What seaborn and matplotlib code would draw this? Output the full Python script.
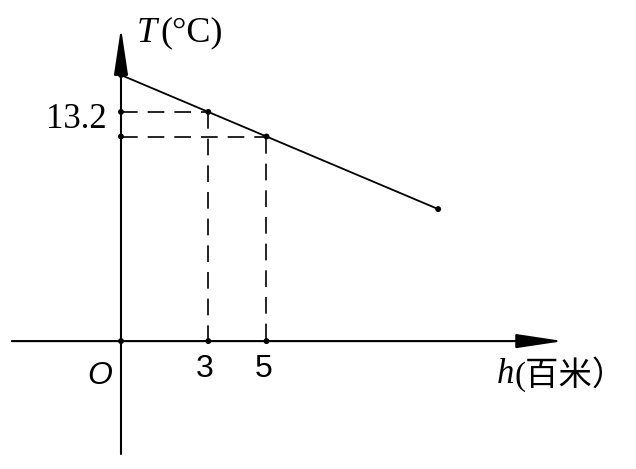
import matplotlib
matplotlib.use("Agg")
import matplotlib.pyplot as plt
import seaborn as sns
import pandas as pd

# ---- data (schematic values) ----
h_line = [0, 3, 5, 10.9]          # height, hundreds of metres
T_line = [16.2, 14.4, 13.2, 9.66]  # temperature, °C
h_marks = [3, 5]
T_marks = [14.4, 13.2]
x_tick_labels = ["3", "5"]
y_tick_label = "13.2"
T_axis = 3.22   # level where the h-axis is drawn in this schematic

sns.set_theme(style="white")
plt.rcParams["font.family"] = ["Liberation Serif", "Noto Sans CJK SC", "DejaVu Sans"]
plt.rcParams["text.color"] = "black"

W, H = 636, 469
fig = plt.figure(figsize=(W / 100, H / 100), dpi=100)
ax = fig.add_axes([0, 0, 1, 1])
ax.set_xlim(-4.158, 17.698)
ax.set_ylim(-3.02, 19.86)
ax.axis("off")

def px(x, y):
    return (x / W, 1 - y / H)

# axes with arrows
arrow = dict(arrowstyle="-|>,head_length=2.4,head_width=0.36", lw=1.5,
             color="black", shrinkA=0, shrinkB=0)
ax.annotate("", xy=(15.2, T_axis), xytext=(-3.75, T_axis), arrowprops=arrow)
ax.annotate("", xy=(0, 18.5), xytext=(0, -2.29), arrowprops=arrow)

# dashed guides
for h, T in zip(h_marks, T_marks):
    ax.plot([0, h], [T, T], color="black", lw=1.2, dashes=(10, 6))
    ax.plot([h, h], [T, T_axis], color="black", lw=1.2, dashes=(10, 6))

# main line
df = pd.DataFrame({"h": h_line, "T": T_line})
sns.lineplot(data=df, x="h", y="T", ax=ax, color="black", lw=1.3)

# dots
dots = pd.DataFrame({
    "h": h_line + h_marks + [0, 0, 0],
    "T": T_line + [T_axis, T_axis] + T_marks + [T_axis],
})
sns.scatterplot(data=dots, x="h", y="T", ax=ax, color="black", s=18,
                edgecolor="none", zorder=5)

# texts
kw = dict(transform=ax.transAxes, color="black", va="center")
ax.text(*px(137, 33), "T", fontsize=26, style="italic", ha="left",
        family="Liberation Serif", **kw)
ax.text(*px(160, 33), "(°C)", fontsize=26, ha="left",
        family="Liberation Serif", **kw)
ax.text(*px(107, 120), y_tick_label, fontsize=25, ha="right",
        family="Liberation Serif", **kw)
for lab, xc in zip(x_tick_labels, [205, 264]):
    ax.text(*px(xc, 369), lab, fontsize=23, ha="center",
            family="Liberation Sans", **kw)
ax.text(*px(100, 376), "O", fontsize=23, style="italic", ha="center",
        family="Liberation Sans", **kw)
ax.text(*px(497, 374), "h", fontsize=25, style="italic", ha="left",
        family="Liberation Serif", **kw)
ax.text(*px(514, 374), "(百米）", fontsize=24, ha="left",
        family=["Liberation Serif", "Noto Sans CJK SC"], **kw)

fig.savefig("out.png", dpi=100, facecolor="white")
